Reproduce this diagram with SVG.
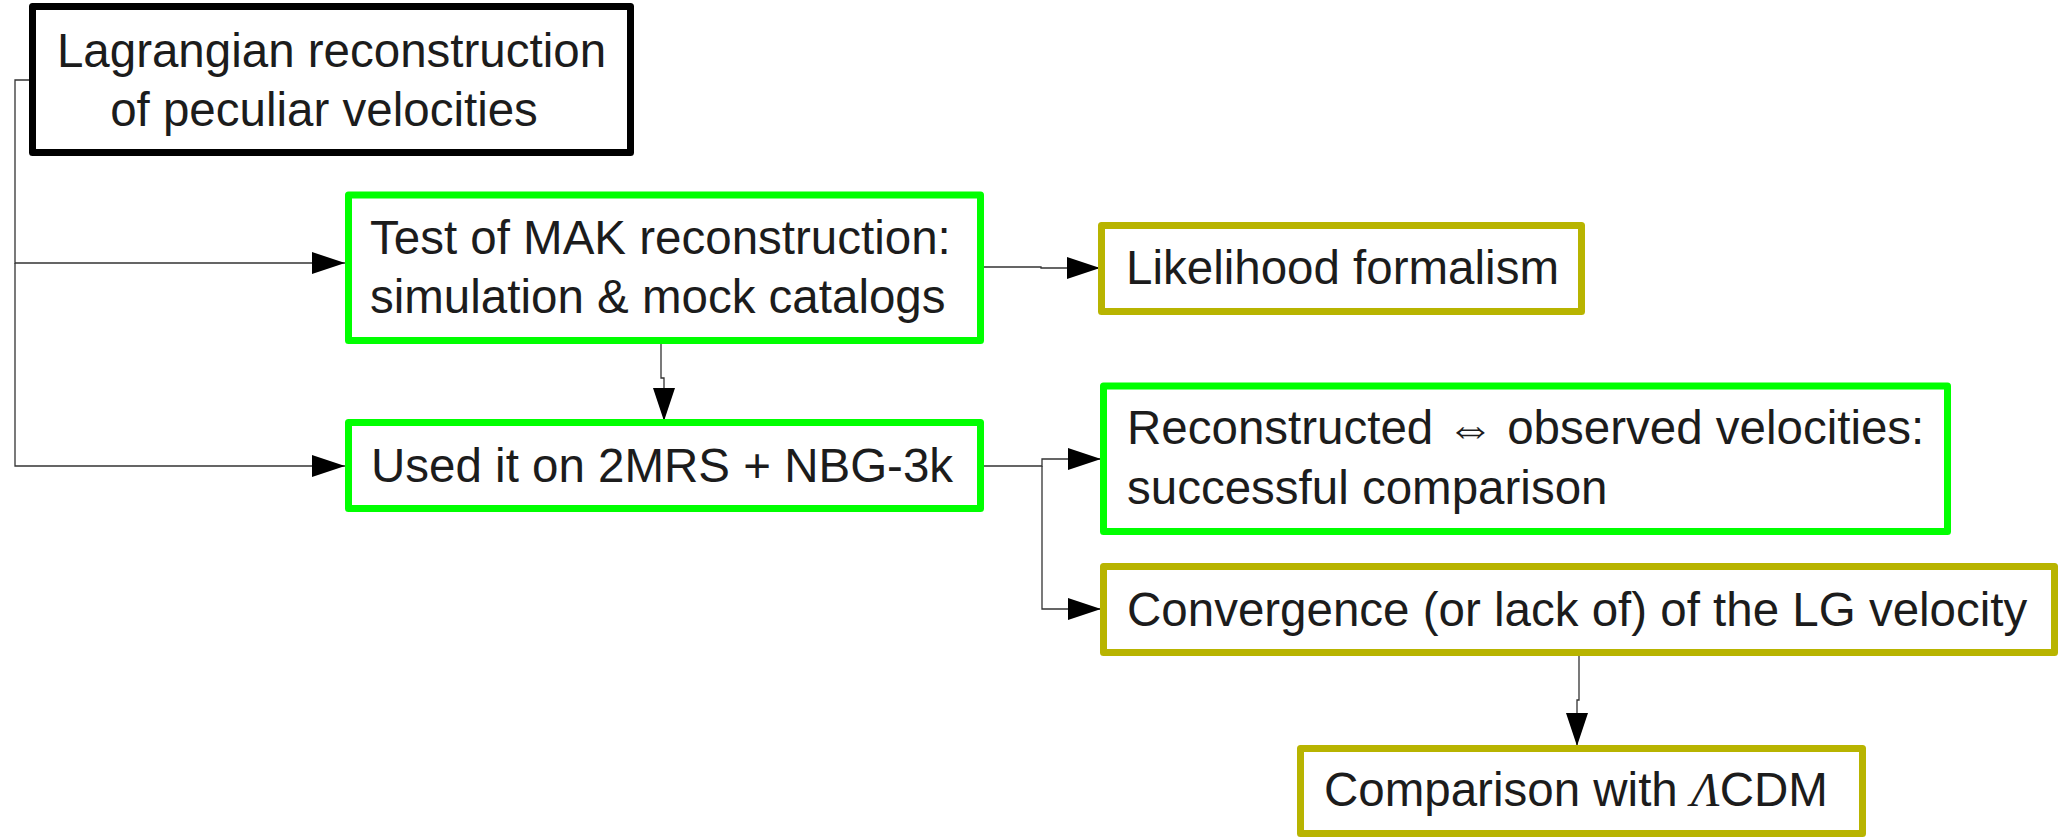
<svg xmlns="http://www.w3.org/2000/svg" width="2062" height="837" viewBox="0 0 2062 837">
<style>
.box{fill:#fff;stroke-width:7;stroke-linejoin:round}
.blk{stroke:#000}
.grn{stroke:#00ff00}
.olv{stroke:#b8b400}
.t{font-family:"Liberation Sans",Arial,sans-serif;font-size:47.5px;fill:#1c1c1c}
.c{fill:none;stroke:#333;stroke-width:1.3}
</style>
<defs>
<marker id="ah" viewBox="0 0 33 22" refX="33" refY="11" markerWidth="33" markerHeight="22" markerUnits="userSpaceOnUse" orient="auto">
<path d="M0,0 L33,11 L0,22 Z" fill="#000"/>
</marker>
</defs>
<g id="connectors">
<path class="c" d="M29,80 H15 V263 H345" marker-end="url(#ah)"/>
<path class="c" d="M15,263 V466 H345" marker-end="url(#ah)"/>
<path class="c" d="M661,333 V378 H664 V421" marker-end="url(#ah)"/>
<path class="c" d="M983,267 H1041 V268 H1100" marker-end="url(#ah)"/>
<path class="c" d="M983,466 H1042 V459 H1101" marker-end="url(#ah)"/>
<path class="c" d="M1042,466 V609 H1101" marker-end="url(#ah)"/>
<path class="c" d="M1579,653 V700 H1577 V746" marker-end="url(#ah)"/>
</g>
<g id="lagrangian">
<rect class="box blk" x="32.5" y="6.5" width="598" height="146"/>
<text class="t" x="331.5" y="67" text-anchor="middle">Lagrangian reconstruction</text>
<text class="t" x="324" y="126" text-anchor="middle">of peculiar velocities</text>
</g>
<g id="test">
<rect class="box grn" x="348.5" y="195" width="632" height="145.5"/>
<text class="t" x="370" y="254">Test of MAK reconstruction:</text>
<text class="t" x="370" y="313">simulation &amp; mock catalogs</text>
</g>
<g id="used">
<rect class="box grn" x="348.5" y="422.5" width="632" height="86"/>
<text class="t" x="371" y="482">Used it on 2MRS + NBG-3k</text>
</g>
<g id="likelihood">
<rect class="box olv" x="1101.5" y="225.5" width="480" height="86"/>
<text class="t" x="1126" y="284">Likelihood formalism</text>
</g>
<g id="reconstructed">
<rect class="box grn" x="1103.5" y="386" width="844" height="145.5"/>
<text class="t" x="1127" y="444">Reconstructed ⇔ observed velocities:</text>
<text class="t" x="1127" y="504">successful comparison</text>
</g>
<g id="convergence">
<rect class="box olv" x="1103.5" y="566.5" width="951" height="86"/>
<text class="t" x="1127" y="626">Convergence (or lack of) of the LG velocity</text>
</g>
<g id="comparison">
<rect class="box olv" x="1300.5" y="748.5" width="562" height="85"/>
<text class="t" x="1324" y="806">Comparison with <tspan font-family="'Liberation Serif',serif" font-style="italic">Λ</tspan>CDM</text>
</g>
</svg>
